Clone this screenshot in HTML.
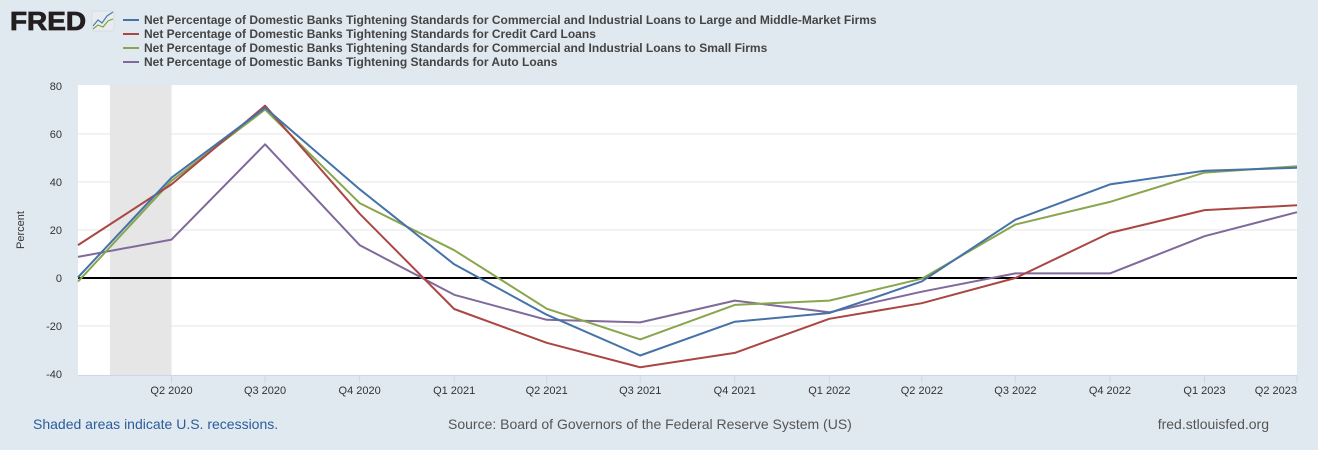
<!DOCTYPE html>
<html><head><meta charset="utf-8">
<style>
body{margin:0;width:1318px;height:450px;background:#e1e9f0;overflow:hidden;font-family:"Liberation Sans",Arial,sans-serif;}
svg{display:block}
</style></head><body>
<svg id="chart" width="1318" height="450" xmlns="http://www.w3.org/2000/svg">
<g>
<text x="10" y="30" font-size="26" font-weight="bold" fill="#231f20" font-family="Liberation Sans, sans-serif" textLength="76" lengthAdjust="spacingAndGlyphs" stroke="#231f20" stroke-width="0.8">FRED</text>
<rect x="92" y="11" width="22" height="20" fill="#e8ecef" stroke="#c9d0d6" stroke-width="0.5" rx="2"/>
<polyline points="93,26 98,20 102,23 107,16 113,12" fill="none" stroke="#4a7fb5" stroke-width="1.2"/>
<polyline points="93,29 98,25 103,27 108,21 113,19" fill="none" stroke="#7ea53a" stroke-width="1.2"/>
</g>
<g id="legend"></g>
<g id="plot"></g>
<text x="33" y="429" font-size="14" fill="#2b5c9a">Shaded areas indicate U.S. recessions.</text>
<text x="448" y="429" font-size="14" fill="#555">Source: Board of Governors of the Federal Reserve System (US)</text>
<text x="1269" y="429" font-size="14" fill="#555" text-anchor="end">fred.stlouisfed.org</text>
</svg>
<script>
const quarters=["2020-01-01","2020-04-01","2020-07-01","2020-10-01","2021-01-01","2021-04-01","2021-07-01","2021-10-01","2022-01-01","2022-04-01","2022-07-01","2022-10-01","2023-01-01","2023-04-01"];
const tickLabels=["Q2 2020","Q3 2020","Q4 2020","Q1 2021","Q2 2021","Q3 2021","Q4 2021","Q1 2022","Q2 2022","Q3 2022","Q4 2022","Q1 2023","Q2 2023"];
const yTicks=[-40,-20,0,20,40,60,80];
const largeFirms=[0.3,41.8,70.9,37,5.7,-15.3,-32.3,-18.2,-14.6,-1.4,24.3,39,44.7,45.9];
const creditCard=[13.7,39,71.8,26.8,-12.9,-27,-37.2,-31.2,-17,-10.5,0,18.8,28.3,30.3];
const smallFirms=[-1.5,40.5,70.2,31.2,11.6,-12.8,-25.6,-11.2,-9.4,-0.3,22.3,31.7,43.9,46.6];
const autoLoans=[8.8,16,55.7,13.7,-7,-17.4,-18.5,-9.4,-14.3,-5.7,1.9,1.9,17.4,27.4];
const seriesNames=["Net Percentage of Domestic Banks Tightening Standards for Commercial and Industrial Loans to Large and Middle-Market Firms","Net Percentage of Domestic Banks Tightening Standards for Credit Card Loans","Net Percentage of Domestic Banks Tightening Standards for Commercial and Industrial Loans to Small Firms","Net Percentage of Domestic Banks Tightening Standards for Auto Loans"];
const recession=["2020-02-01","2020-04-01"];

const NS="http://www.w3.org/2000/svg";
const L=78,R=1297,T=86,B=375;
const t0=Date.parse("2020-01-01"),t1=Date.parse("2023-04-01");
function xs(d){return L+(Date.parse(d)-t0)/(t1-t0)*(R-L);}
function ys(v){return 278-v*(278-T)/80;}
function mk(tag,attrs,parent){const e=document.createElementNS(NS,tag);for(const k in attrs)e.setAttribute(k,attrs[k]);parent.appendChild(e);return e;}
const plot=document.getElementById('plot');
const bg=mk('rect',{x:L,y:T-1,width:R-L,height:B-T+1,fill:'#fff'},plot);


const rec=mk('rect',{x:xs(recession[0]),y:T-1,width:xs(recession[1])-xs(recession[0]),height:B-T+1,fill:'#e6e6e6'},plot);


yTicks.forEach(v=>{
 if(v!==0&&v!==80&&v!==-40){const g=mk('line',{x1:L,x2:R,y1:ys(v),y2:ys(v),stroke:'#e6e6e6','stroke-width':1},plot);
 
 }
 const t=mk('text',{x:62,y:ys(v)+4,'font-size':11,fill:'#333','text-anchor':'end'},plot);t.textContent=v;
 
 
});
const yt=mk('text',{x:24,y:230,'font-size':11,fill:'#333','text-anchor':'middle',transform:'rotate(-90 24 230)'},plot);yt.textContent='Percent';


const ax=mk('line',{x1:L,x2:R,y1:B+0.5,y2:B+0.5,stroke:'#ccd6eb','stroke-width':1},plot);


tickLabels.forEach((lab,i)=>{
 const x=xs(quarters[i+1]);
 const tk=mk('line',{x1:x,x2:x,y1:B,y2:B+8,stroke:'#ccd6eb'},plot);
 
 
 const anchor=i===tickLabels.length-1?'end':'middle';
 const t=mk('text',{x:i===tickLabels.length-1?R:x,y:B+19,'font-size':11,fill:'#333','text-anchor':anchor},plot);t.textContent=lab;
 
 
});
const zl=mk('line',{x1:L,x2:R,y1:ys(0),y2:ys(0),stroke:'#000','stroke-width':2},plot);


const allSeries=[largeFirms,creditCard,smallFirms,autoLoans];
const colors=["#4572a7","#aa4643","#89a54e","#80699b"];
const seriesIds=["series-large-middle-firms","series-credit-card","series-small-firms","series-auto-loans"];
[3,2,1,0].forEach(s=>{
 const pts=allSeries[s].map((v,i)=>xs(quarters[i]).toFixed(1)+','+ys(v).toFixed(1)).join(' ');
 const p=mk('polyline',{points:pts,fill:'none',stroke:colors[s],'stroke-width':2,'stroke-linejoin':'round'},plot);
 
 
});
const leg=document.getElementById('legend');
seriesNames.forEach((n,i)=>{
 const y=20+i*14;
 const ln=mk('line',{x1:123,x2:139,y1:y,y2:y,stroke:colors[i],'stroke-width':2},leg);
 
 
 const t=mk('text',{x:144,y:y+4,'font-size':12,'font-weight':'bold',fill:'#444'},leg);t.textContent=n;
 
 
});
</script>
</body></html>
